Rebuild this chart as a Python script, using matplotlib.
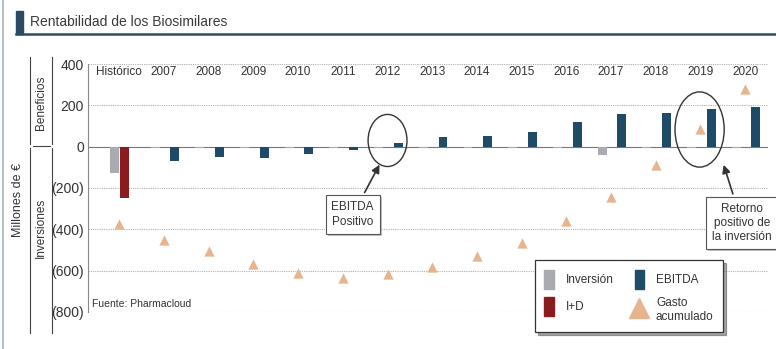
import matplotlib
matplotlib.use("Agg")
import matplotlib.pyplot as plt
from matplotlib.patches import Ellipse, Rectangle, Patch
from matplotlib.lines import Line2D
import matplotlib.patheffects as pe
import numpy as np

plt.rcParams['font.family'] = ['Liberation Sans', 'DejaVu Sans']

categories = ["Histórico", "2007", "2008", "2009", "2010", "2011", "2012", "2013",
              "2014", "2015", "2016", "2017", "2018", "2019", "2020"]
inversion = [-126, -8, -8, -8, -8, -8, -8, -8, -8, -8, -8, -40, -8, -8, -8]
imasd = [-250]
ebitda = [None, -70, -50, -56, -36, -18, 18, 46, 54, 70, 117, 157, 162, 182, 194]
gasto = [-372, -450, -506, -566, -612, -634, -618, -582, -529, -466, -359, -243, -89, 87, 279]
yticks = [400, 200, 0, -200, -400, -600, -800]
yticklabels = ["400", "200", "0", "(200)", "(400)", "(600)", "(800)"]

c_gray = "#a9abb0"
c_red = "#8a1c1f"
c_blue = "#1d4b68"
c_tri = "#e6b48e"

fig = plt.figure(figsize=(7.76, 3.49), dpi=100)
fig.patch.set_facecolor("white")
ax = fig.add_axes([88/776, 1-312/349, 680/776, 248/349])

x = np.arange(len(categories))
w = 0.2
ax.axhline(0, color="#777777", lw=0.8, zorder=2)
ax.bar(x[0]-0.11, inversion[0], w, color=c_gray, zorder=3)
ax.bar(x[0]+0.11, imasd[0], w, color=c_red, zorder=3)
ax.bar(x[1:]-0.2, inversion[1:], w, color=c_gray, zorder=3)
ax.bar(x[1:]+0.24, ebitda[1:], w, color=c_blue, zorder=3)
ax.scatter(x, gasto, marker="^", s=55, color=c_tri, zorder=4, linewidths=0)

ax.set_xlim(-0.70, 14.51)
ax.set_ylim(-800, 400)
ax.set_yticks(yticks)
ax.set_yticklabels(yticklabels, fontsize=10, color="#333333")
ax.tick_params(axis="y", length=0, pad=3)
ax.set_xticks([])
for s in ["top", "right", "bottom"]:
    ax.spines[s].set_visible(False)
ax.spines["left"].set_color("#888888")
ax.spines["left"].set_linewidth(0.8)
for yv in [400, 200, -200, -400, -600, -800]:
    ax.axhline(yv, color="#b0b0b0", lw=0.8, ls=(0, (1, 1)), zorder=1)

for xi, c in zip(x, categories):
    ax.text(xi, 360, c, ha="center", va="center", fontsize=8.5, color="#333333")

ax.text(-0.62, -760, "Fuente: Pharmacloud", fontsize=7.5, color="#333333", va="center")

shadow = [pe.withSimplePatchShadow(offset=(1.5, -1.5), shadow_rgbFace="#999999", alpha=0.6)]
box = dict(boxstyle="square,pad=0.5", fc="white", ec="#555555", lw=0.8)

ax.add_patch(Ellipse((6.0, 30), 0.87, 252, fill=False, ec="#333333", lw=1, zorder=5))
a1 = ax.annotate("EBITDA\nPositivo", xy=(5.85, -75), xytext=(5.22, -330),
                 fontsize=8.5, color="#333333", ha="center", va="center", linespacing=1.35,
                 bbox=box,
                 arrowprops=dict(arrowstyle="-|>", color="#333333", lw=1.2, mutation_scale=12),
                 zorder=6)
a1.get_bbox_patch().set_path_effects(shadow)
ax.add_patch(Ellipse((12.98, 83), 1.1, 364, fill=False, ec="#333333", lw=1, zorder=5))
a2 = ax.annotate("Retorno\npositivo de\nla inversión", xy=(13.5, -75), xytext=(13.93, -370),
                 fontsize=8.5, color="#333333", ha="center", va="center", linespacing=1.25,
                 bbox=box,
                 arrowprops=dict(arrowstyle="-|>", color="#333333", lw=1.2, mutation_scale=12),
                 zorder=6, annotation_clip=False)
a2.get_bbox_patch().set_path_effects(shadow)

handles = [Patch(color=c_gray), Patch(color=c_red), Patch(color=c_blue),
           Line2D([], [], marker="^", color=c_tri, ls="none", markersize=14)]
labels = ["Inversión", "I+D", "EBITDA", "Gasto\nacumulado"]
leg = fig.legend(handles, labels, ncol=2, loc="lower left",
                 bbox_to_anchor=(529/776, 1-338/349), fontsize=8.5,
                 frameon=True, fancybox=False, shadow=True,
                 handlelength=0.8, handleheight=2.1, columnspacing=1.8,
                 borderpad=0.8, labelspacing=0.7, handletextpad=1.0)
leg.get_frame().set_edgecolor("#333333")
leg.get_frame().set_linewidth(0.9)
for t in leg.get_texts():
    t.set_color("#333333")

fig.text(18/776, 1-200/349, "Millones de €", rotation=90, ha="center", va="center",
         fontsize=9, color="#333333")
fig.text(41/776, 1-103/349, "Beneficios", rotation=90, ha="center", va="center",
         fontsize=8.5, color="#333333")
fig.text(41/776, 1-228/349, "Inversiones", rotation=90, ha="center", va="center",
         fontsize=8.5, color="#333333")
for xx in [30, 52]:
    fig.add_artist(Line2D([xx/776, xx/776], [1-57/349, 1-144/349], color="#444444", lw=0.8))
    fig.add_artist(Line2D([xx/776, xx/776], [1-148/349, 1-333/349], color="#444444", lw=0.8))
fig.add_artist(Line2D([33/776, 50/776], [1-146/349, 1-146/349], color="#444444", lw=0.8))

fig.add_artist(Rectangle((16/776, 1-34/349), 7/776, 23/349, color="#2b4a63",
                         transform=fig.transFigure))
fig.add_artist(Line2D([16/776, 1.0], [1-34/349, 1-34/349], color="#2e4a60", lw=1.8))
fig.text(30/776, 1-22/349, "Rentabilidad de los Biosimilares", fontsize=10,
         color="#3a3a3a", va="center", ha="left")
fig.add_artist(Line2D([3/776, 3/776], [0, 1], color="#9fb6c8", lw=1.2))

fig.savefig("out.png", dpi=100, facecolor="white")
